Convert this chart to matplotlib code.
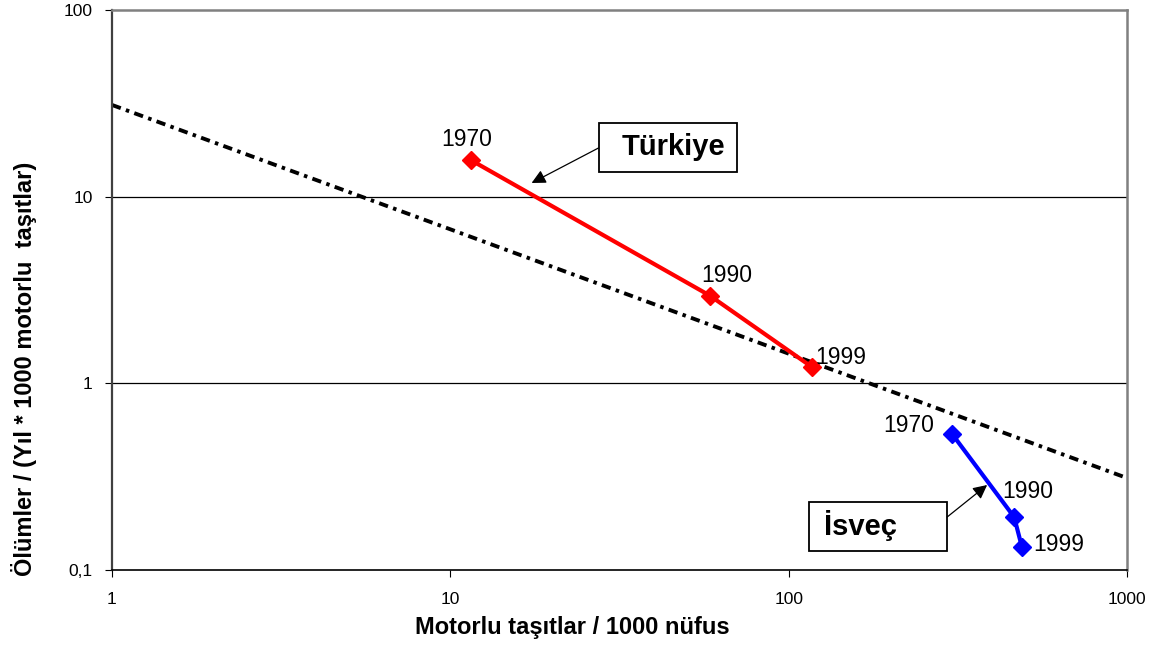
import numpy as np
import matplotlib.pyplot as plt
from matplotlib.patches import Rectangle

plt.rcParams['font.family'] = ['Liberation Sans', 'DejaVu Sans']

# motorlu taşıt / 1000 nüfus ve ölüm oranları
years = ['1970', '1990', '1999']
tr_x = [11.5, 58.5, 117.4]
tr_y = [15.7, 2.95, 1.22]
se_x = [304, 464, 489]
se_y = [0.536, 0.192, 0.133]

# Smeed eğrisi uç noktaları
trend_x = [1, 1000]
trend_y = [31.0, 0.311]

x_ticks = [1, 10, 100, 1000]
x_labels = ['1', '10', '100', '1000']
y_ticks = [0.1, 1, 10, 100]
y_labels = ['0,1', '1', '10', '100']

fig = plt.figure(figsize=(11.53, 6.46), dpi=100)
ax = fig.add_axes([112 / 1153, 76 / 646, 1015 / 1153, 560 / 646])
ax.set_xscale('log')
ax.set_yscale('log')
ax.set_xlim(1, 1000)
ax.set_ylim(0.1, 100)

for v in [1, 10]:
    ax.axhline(v, color='black', lw=0.9, zorder=1)

ax.plot(trend_x, trend_y, color='black', lw=2.8,
        dashes=(2.4, 1.4, 0.9, 1.4), zorder=2)
ax.plot(tr_x, tr_y, color='red', lw=3, marker='D', ms=9.5, zorder=3)
ax.plot(se_x, se_y, color='blue', lw=3, marker='D', ms=9.5, zorder=3)

# yıl etiketleri (piksel ofsetleri)
tr_off = [(-4, 21), (17, 20), (29, 10)]
se_off = [(-43, 8), (14, 26), (37, 2)]
for yr, x, y, (dx, dy) in zip(years, tr_x, tr_y, tr_off):
    ax.annotate(yr, (x, y), xytext=(dx, dy), textcoords='offset pixels',
                fontsize=16.5, ha='center', va='center', zorder=4)
for yr, x, y, (dx, dy) in zip(years, se_x, se_y, se_off):
    ax.annotate(yr, (x, y), xytext=(dx, dy), textcoords='offset pixels',
                fontsize=16.5, ha='center', va='center', zorder=4)

# ülke kutuları ve oklar
arrow = dict(arrowstyle='-|>', color='black', lw=0.9,
             mutation_scale=21, shrinkA=0, shrinkB=0)
ax.add_patch(Rectangle((0.480, 0.7107), 0.1360, 0.0875, transform=ax.transAxes,
                       fc='white', ec='black', lw=1.3, zorder=5))
ax.text(0.502, 0.755, 'Türkiye', transform=ax.transAxes, fontsize=21,
        fontweight='bold', ha='left', va='center', zorder=6)
ax.annotate('', xy=(0.4134, 0.6911), xytext=(0.4793, 0.7536),
            xycoords='axes fraction', textcoords='axes fraction',
            arrowprops=arrow, zorder=5)

ax.add_patch(Rectangle((0.687, 0.0339), 0.1360, 0.0875, transform=ax.transAxes,
                       fc='white', ec='black', lw=1.3, zorder=5))
ax.text(0.7018, 0.0786, 'İsveç', transform=ax.transAxes, fontsize=21,
        fontweight='bold', ha='left', va='center', zorder=6)
ax.annotate('', xy=(0.8622, 0.1518), xytext=(0.8228, 0.0946),
            xycoords='axes fraction', textcoords='axes fraction',
            arrowprops=arrow, zorder=5)

ax.set_xticks(x_ticks)
ax.set_xticklabels(x_labels)
ax.set_yticks(y_ticks)
ax.set_yticklabels(y_labels)
ax.minorticks_off()
ax.tick_params(axis='x', direction='out', length=5, pad=11, labelsize=12.5)
ax.tick_params(axis='y', direction='out', length=5, pad=9, labelsize=12.5)

for s in ['top', 'right']:
    ax.spines[s].set_color('#808080')
    ax.spines[s].set_linewidth(1.8)
ax.spines['left'].set_color('#404040')
ax.spines['left'].set_linewidth(1.6)
ax.spines['bottom'].set_color('black')
ax.spines['bottom'].set_linewidth(1.2)

ax.set_xlabel('Motorlu taşıtlar / 1000 nüfus', fontsize=17, fontweight='bold',
              va='center')
ax.xaxis.set_label_coords(0.454, -0.102)
ax.set_ylabel('Ölümler / (Yıl * 1000 motorlu  taşıtlar)', fontsize=17,
              fontweight='bold', va='center')
ax.yaxis.set_label_coords(-0.0867, 0.359)

fig.savefig('out.png', dpi=100)
